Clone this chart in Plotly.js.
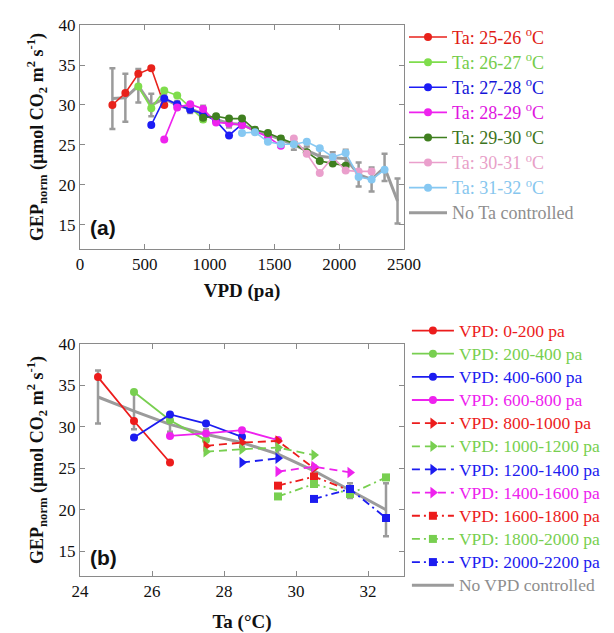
<!DOCTYPE html>
<html>
<head>
<meta charset="utf-8">
<script src="https://cdn.plot.ly/plotly-3.0.1.min.js"></script>
<style>html,body{margin:0;padding:0;background:#fff;}#chart{width:614px;height:633px;}</style>
</head>
<body>
<div id="chart"></div>
<script>
// ---------- Panel (a): GEP_norm vs VPD, grouped by air temperature ----------
const taLabels = ['Ta: 25-26 <sup>o</sup>C','Ta: 26-27 <sup>o</sup>C','Ta: 27-28 <sup>o</sup>C','Ta: 28-29 <sup>o</sup>C','Ta: 29-30 <sup>o</sup>C','Ta: 30-31 <sup>o</sup>C','Ta: 31-32 <sup>o</sup>C'];
const ta25_x = [250,350,450,550,650];
const ta25_y = [30.0,31.5,33.9,34.6,30.0];
const ta26_x = [450,550,650,750,850,950];
const ta26_y = [32.3,29.6,31.8,31.2,29.7,28.2];
const ta27_x = [550,650,750,850,950,1050,1150,1250];
const ta27_y = [27.5,30.8,30.1,29.4,28.9,28.0,26.2,27.6];
const ta28_x = [650,750,850,950,1050,1150,1250,1350,1450,1550];
const ta28_y = [25.7,29.7,30.1,29.5,27.8,27.7,27.5,26.8,26.0,24.9];
const ta29_x = [950,1050,1150,1250,1350,1450,1550,1650,1750,1850,1950,2050];
const ta29_y = [28.4,28.6,28.3,28.3,26.9,26.5,25.8,25.2,24.1,23.0,22.7,22.4];
const ta30_x = [1650,1750,1850,1950,2050,2150,2250];
const ta30_y = [25.8,23.9,21.5,23.5,21.8,21.7,21.7];
const ta31_x = [1250,1350,1450,1550,1650,1750,1850,1950,2050,2150,2250,2350];
const ta31_y = [26.5,26.6,25.4,25.1,25.1,25.4,24.6,23.5,24.0,21.0,20.7,21.9];
const noTa_x = [250,350,450,550,650,750,850,950,1050,1150,1250,1350,1450,1550,1650,1750,1850,1950,2050,2150,2250,2350,2450];
const noTa_y = [30.8,30.9,32.4,30.0,30.8,30.0,29.5,28.9,28.2,27.7,27.6,26.8,26.3,25.7,25.0,24.3,23.6,23.4,23.3,21.3,20.7,22.2,18.0];
const noTa_err = [3.8,3.0,2.1,1.4,0.6,0.5,0.5,1.0,0.5,0.5,0.4,0.4,0.4,0.4,0.6,0.5,0.8,0.7,1.1,1.5,1.5,1.7,2.8];

// ---------- Panel (b): GEP_norm vs Ta, grouped by VPD ----------
const vpdLabels = ['VPD: 0-200 pa','VPD: 200-400 pa','VPD: 400-600 pa','VPD: 600-800 pa','VPD: 800-1000 pa','VPD: 1000-1200 pa','VPD: 1200-1400 pa','VPD: 1400-1600 pa','VPD: 1600-1800 pa','VPD: 1800-2000 pa','VPD: 2000-2200 pa'];
const v0_x = [24.5,25.5,26.5];            const v0_y = [36.0,30.7,25.7];
const v200_x = [25.5,26.5,27.5];          const v200_y = [34.2,30.8,28.4];
const v400_x = [25.5,26.5,27.5,28.5];     const v400_y = [28.7,31.5,30.4,28.8];
const v600_x = [26.5,27.5,28.5,29.5];     const v600_y = [28.9,29.2,29.6,28.4];
const v800_x = [27.5,28.5,29.5,30.5];     const v800_y = [27.7,28.1,28.3,25.0];
const v1000_x = [27.5,28.5,29.5,30.5];    const v1000_y = [27.0,27.3,27.5,26.6];
const v1200_x = [28.5,29.5];              const v1200_y = [25.7,26.2];
const v1400_x = [29.5,30.5,31.5];         const v1400_y = [24.6,25.2,24.5];
const v1600_x = [29.5,30.5,31.5];         const v1600_y = [22.9,24.0,22.3];
const v1800_x = [29.5,30.5,31.5,32.5];    const v1800_y = [21.6,23.1,21.9,23.9];
const v2000_x = [30.5,31.5,32.5];         const v2000_y = [21.3,22.5,19.0];
const noVpd_x = [24.5,25.5,26.5,27.5,28.5,29.5,30.5,31.5,32.5];
const noVpd_y = [33.6,31.9,30.3,29.1,28.1,26.7,24.7,22.3,20.0];
const noVpd_err = [3.2,2.2,0.9,0.6,0.5,0.5,0.6,0.9,3.2];

const SERIF = '"Liberation Serif", "Times New Roman", serif';
const GRAY = '#9b9b9b';

function nm(text, color, size) {
  return '<span style="color:' + color + ';font-size:' + size + 'px">' + text + '</span>';
}

const traces = [];
// gray reference (a)
traces.push({
  x: noTa_x, y: noTa_y, type: 'scatter', mode: 'lines',
  line: {color: GRAY, width: 3},
  error_y: {type: 'data', array: noTa_err, visible: true, color: GRAY, thickness: 2.5, width: 3},
  name: nm('No Ta controlled', '#8e8e8e', 18), legend: 'legend', legendrank: 2000,
  xaxis: 'x', yaxis: 'y'
});
const aSeries = [
  [ta25_x, ta25_y, '#e8221b', '#e01a14'],
  [ta26_x, ta26_y, '#7fdd4c', '#74cc4a'],
  [ta27_x, ta27_y, '#1c1cf5', '#1414d8'],
  [ta28_x, ta28_y, '#ee22ee', '#e014e0'],
  [ta29_x, ta29_y, '#3f7f1f', '#3c7420'],
  [ta30_x, ta30_y, '#ea9fcc', '#e8a0c8'],
  [ta31_x, ta31_y, '#86c8f2', '#86c6ee']
];
aSeries.forEach((s, i) => {
  traces.push({
    x: s[0], y: s[1], type: 'scatter', mode: 'lines+markers',
    line: {color: s[2], width: 1.6}, marker: {color: s[2], size: 8, symbol: 'circle'},
    name: nm(taLabels[i], s[3], 18), legend: 'legend', legendrank: 1000 + i,
    xaxis: 'x', yaxis: 'y'
  });
});

// gray reference (b)
traces.push({
  x: noVpd_x, y: noVpd_y, type: 'scatter', mode: 'lines',
  line: {color: GRAY, width: 3},
  error_y: {type: 'data', array: noVpd_err, visible: true, color: GRAY, thickness: 2.5, width: 3},
  name: nm('No VPD controlled', '#8e8e8e', 17.5), legend: 'legend2', legendrank: 2000,
  xaxis: 'x2', yaxis: 'y2'
});
const RED = '#ec1c1c', GRN = '#78cf50', BLU = '#1c1cf0', MAG = '#ee22ee';
const bSeries = [
  [v0_x, v0_y, RED, 'solid', 'circle', 8],
  [v200_x, v200_y, GRN, 'solid', 'circle', 8],
  [v400_x, v400_y, BLU, 'solid', 'circle', 8],
  [v600_x, v600_y, MAG, 'solid', 'circle', 8],
  [v800_x, v800_y, RED, '8px,5px', 'triangle-right', 10],
  [v1000_x, v1000_y, GRN, '8px,5px', 'triangle-right', 10],
  [v1200_x, v1200_y, BLU, '8px,5px', 'triangle-right', 10],
  [v1400_x, v1400_y, MAG, '8px,5px', 'triangle-right', 10],
  [v1600_x, v1600_y, RED, '8px,4px,2px,4px', 'square', 8],
  [v1800_x, v1800_y, GRN, '8px,4px,2px,4px', 'square', 8],
  [v2000_x, v2000_y, BLU, '8px,4px,2px,4px', 'square', 8]
];
bSeries.forEach((s, i) => {
  traces.push({
    x: s[0], y: s[1], type: 'scatter', mode: 'lines+markers',
    line: {color: s[2], width: 1.8, dash: s[3]}, marker: {color: s[2], size: s[5], symbol: s[4]},
    name: nm(vpdLabels[i], s[2], 17.5), legend: 'legend2', legendrank: 1000 + i,
    xaxis: 'x2', yaxis: 'y2'
  });
});

const yTitle = '<b>GEP<sub>norm</sub> (µmol CO<sub>2</sub> m<sup>2</sup> s<sup>-1</sup>)</b>';
const axisCommon = {
  showgrid: false, zeroline: false, showline: true, linecolor: '#8a8a8a', linewidth: 1,
  mirror: 'ticks', ticks: 'inside', ticklen: 5, tickcolor: '#8a8a8a',
  tickfont: {family: SERIF, size: 17, color: '#111'}
};

const layout = {
  width: 614, height: 633,
  margin: {l: 80, r: 210, t: 25, b: 57, autoexpand: false},
  paper_bgcolor: '#fff', plot_bgcolor: '#fff',
  showlegend: true,
  font: {family: SERIF},
  xaxis: Object.assign({}, axisCommon, {
    domain: [0, 1], anchor: 'y', range: [0, 2500], tickvals: [0,500,1000,1500,2000,2500],
    title: {text: '<b>VPD (pa)</b>', font: {family: SERIF, size: 19, color: '#111'}, standoff: 10}
  }),
  yaxis: Object.assign({}, axisCommon, {
    domain: [0.5935, 1], anchor: 'x', range: [12, 40], tickvals: [15,20,25,30,35,40],
    title: {text: yTitle, font: {family: SERIF, size: 18, color: '#111'}, standoff: 10}
  }),
  xaxis2: Object.assign({}, axisCommon, {
    domain: [0, 1], anchor: 'y2', range: [24, 33], tickvals: [24,26,28,30,32],
    title: {text: '<b>Ta (°C)</b>', font: {family: SERIF, size: 19, color: '#111'}, standoff: 14}
  }),
  yaxis2: Object.assign({}, axisCommon, {
    domain: [0, 0.4211], anchor: 'x2', range: [12, 40], tickvals: [15,20,25,30,35,40],
    title: {text: yTitle, font: {family: SERIF, size: 18, color: '#111'}, standoff: 10}
  }),
  legend: {
    x: 1.0, y: 1.010, xanchor: 'left', yanchor: 'top',
    font: {family: SERIF, size: 17, color: '#333'}, itemwidth: 38,
    bgcolor: 'rgba(0,0,0,0)', borderwidth: 0, tracegroupgap: 0
  },
  legend2: {
    x: 1.009, y: 0.4755, xanchor: 'left', yanchor: 'top',
    font: {family: SERIF, size: 15.5, color: '#333'}, itemwidth: 42,
    bgcolor: 'rgba(0,0,0,0)', borderwidth: 0, tracegroupgap: 0
  },
  annotations: [
    {text: '<b>(a)</b>', xref: 'paper', yref: 'paper', x: 0.025, y: 0.633, xanchor: 'left', yanchor: 'middle',
     showarrow: false, font: {family: '"Liberation Sans", Arial, sans-serif', size: 21, color: '#111'}},
    {text: '<b>(b)</b>', xref: 'paper', yref: 'paper', x: 0.025, y: 0.033, xanchor: 'left', yanchor: 'middle',
     showarrow: false, font: {family: '"Liberation Sans", Arial, sans-serif', size: 21, color: '#111'}}
  ]
};

Plotly.newPlot('chart', traces, layout, {displayModeBar: false, staticPlot: true});
</script>
</body>
</html>
